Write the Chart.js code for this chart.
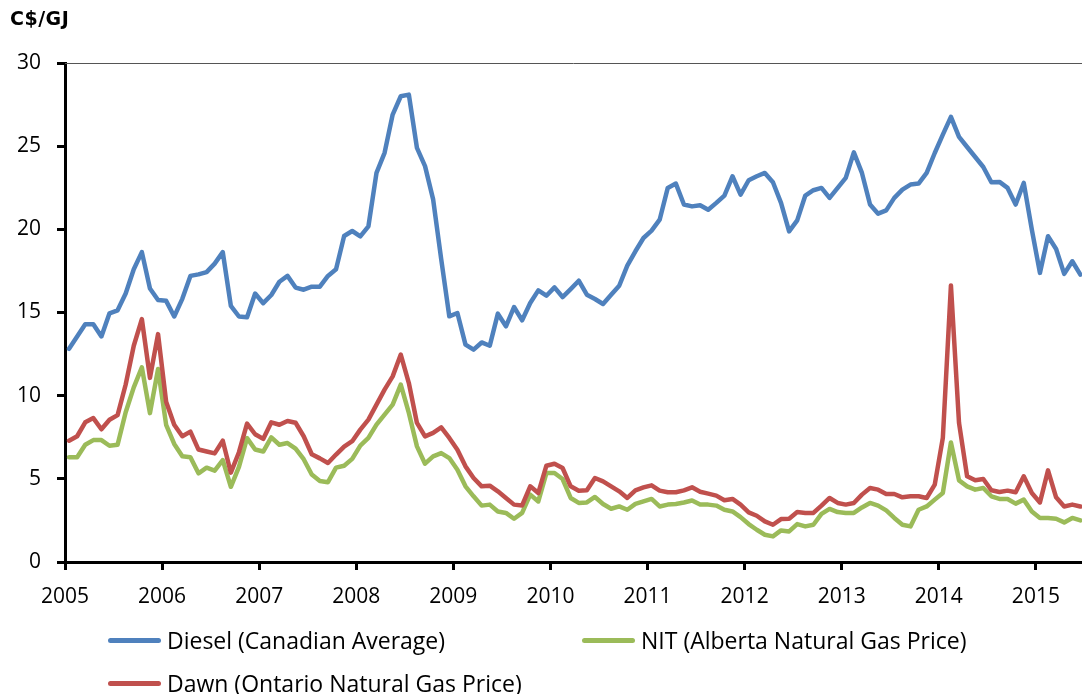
<!DOCTYPE html>
<html>
<head>
<meta charset="utf-8">
<script src="https://cdn.jsdelivr.net/npm/chart.js@4.4.1/dist/chart.umd.min.js"></script>
<style>
  body { margin: 0; background: #fff; font-family: "Open Sans", sans-serif; }
  #wrap { position: relative; width: 1082px; height: 694px; overflow: hidden; }
  #chart { position: absolute; left: 0; top: 0; }
  #unit { position: absolute; left: 10px; top: 7px; font-size: 19px; font-weight: bold; letter-spacing: 0.5px; color: #000; font-family: "DejaVu Sans", sans-serif; }
  .leg { position: absolute; font-size: 23px; color: #000; white-space: nowrap; line-height: 30px; }
  .leg i { display: inline-block; width: 53px; height: 5px; border-radius: 3px; vertical-align: middle; margin-right: 6px; position: relative; top: -2px; }
</style>
</head>
<body>
<div id="wrap">
  <canvas id="chart" width="1082" height="694"></canvas>
  <div id="unit">C$/GJ</div>
  <div class="leg" style="left:108px; top:625px;"><i style="background:#4F81BD"></i>Diesel (Canadian Average)</div>
  <div class="leg" style="left:582px; top:625px;"><i style="background:#9BBB59"></i>NIT (Alberta Natural Gas Price)</div>
  <div class="leg" style="left:108px; top:668px;"><i style="background:#C0504D"></i>Dawn (Ontario Natural Gas Price)</div>
</div>
<script>
// Monthly prices, Jan 2005 - Jun 2015 (C$/GJ)
const yearLabels = ['2005', '2006', '2007', '2008', '2009', '2010', '2011', '2012', '2013', '2014', '2015'];
const yTicks = [0, 5, 10, 15, 20, 25, 30];

const diesel = [
  12.82, 13.56, 14.3, 14.3, 13.56, 14.95, 15.13, 16.14, 17.6, 18.63, 16.44, 15.75,
  15.7, 14.76, 15.82, 17.2, 17.29, 17.43, 17.94, 18.63, 15.4, 14.76, 14.71, 16.14,
  15.56, 16.05, 16.85, 17.2, 16.5, 16.37, 16.55, 16.55, 17.2, 17.6, 19.6, 19.9,
  19.58, 20.18, 23.39, 24.6, 26.9, 28.0, 28.1, 24.9, 23.8, 21.8, 18.2, 14.77,
  14.97, 13.07, 12.77, 13.2, 13.0, 14.93, 14.17, 15.33, 14.53, 15.57, 16.33, 16.01,
  16.51, 15.93, 16.41, 16.91, 16.07, 15.81, 15.51, 16.07, 16.61, 17.82, 18.68, 19.48,
  19.92, 20.58, 22.49, 22.75, 21.49, 21.38, 21.45, 21.18, 21.59, 22.03, 23.19, 22.09,
  22.95, 23.19, 23.39, 22.83, 21.59, 19.88, 20.54, 22.03, 22.35, 22.49, 21.89, 22.49,
  23.09, 24.63, 23.39, 21.49, 20.94, 21.14, 21.89, 22.39, 22.69, 22.75, 23.39, 24.59,
  25.69, 26.76, 25.56, 24.95, 24.35, 23.75, 22.83, 22.85, 22.49, 21.49, 22.79, 19.98,
  17.38, 19.58, 18.82, 17.32, 18.08, 17.28
];

const nit = [
  6.3, 6.3, 7.05, 7.33, 7.33, 6.99, 7.05, 9.0, 10.5, 11.7, 8.95, 11.6,
  8.25, 7.1, 6.36, 6.3, 5.33, 5.67, 5.49, 6.13, 4.52, 5.72, 7.45, 6.76,
  6.64, 7.49, 7.05, 7.15, 6.82, 6.18, 5.26, 4.87, 4.8, 5.67, 5.79, 6.2,
  7.0, 7.46, 8.26, 8.86, 9.46, 10.66, 8.96, 6.95, 5.91, 6.35, 6.55, 6.25,
  5.55, 4.55, 3.95, 3.39, 3.45, 3.04, 2.95, 2.6, 2.95, 4.05, 3.64, 5.35,
  5.35, 4.99, 3.85, 3.55, 3.58, 3.91, 3.49, 3.2, 3.34, 3.14, 3.49, 3.64,
  3.79, 3.34, 3.45, 3.49, 3.58, 3.7, 3.45, 3.45, 3.39, 3.14, 3.04, 2.7,
  2.28, 1.94, 1.64, 1.54, 1.9, 1.84, 2.28, 2.14, 2.24, 2.89, 3.19, 3.0,
  2.95, 2.95, 3.28, 3.55, 3.39, 3.1, 2.65, 2.24, 2.14, 3.14, 3.34, 3.75,
  4.15, 7.19, 4.91, 4.55, 4.35, 4.45, 3.95, 3.79, 3.79, 3.51, 3.75, 3.04,
  2.65, 2.65, 2.6, 2.38, 2.65, 2.5
];

const dawn = [
  7.29, 7.56, 8.4, 8.65, 7.98, 8.55, 8.83, 10.67, 13.0, 14.6, 11.07, 13.7,
  9.64, 8.25, 7.56, 7.84, 6.76, 6.64, 6.53, 7.29, 5.37, 6.6, 8.32, 7.68,
  7.4, 8.4, 8.25, 8.48, 8.37, 7.56, 6.48, 6.23, 5.95, 6.46, 6.94, 7.26,
  7.96, 8.56, 9.46, 10.36, 11.16, 12.47, 10.76, 8.36, 7.55, 7.76, 8.09, 7.46,
  6.75, 5.75, 5.05, 4.55, 4.59, 4.25, 3.85, 3.45, 3.4, 4.55, 4.15, 5.79,
  5.91, 5.65, 4.55, 4.29, 4.31, 5.05, 4.85, 4.55, 4.25, 3.85, 4.31, 4.49,
  4.61, 4.29, 4.19, 4.19, 4.31, 4.49, 4.22, 4.11, 3.99, 3.71, 3.79, 3.45,
  2.98, 2.78, 2.44, 2.24, 2.58, 2.6, 3.0, 2.95, 2.95, 3.39, 3.85, 3.55,
  3.45, 3.55, 4.05, 4.45, 4.35, 4.09, 4.09, 3.89, 3.95, 3.95, 3.85, 4.65,
  7.46, 16.63, 8.36, 5.15, 4.91, 4.99, 4.31, 4.21, 4.29, 4.19, 5.15, 4.15,
  3.58, 5.51, 3.89, 3.34, 3.45, 3.34
];

// points sit mid-month, x measured in months from Jan 2005
const toPoints = arr => arr.map((v, i) => ({ x: i + 0.5, y: v }));

const font = { family: '"Open Sans", sans-serif', size: 21 };

// thin border along the top of the plot area
const topBorder = {
  id: 'topBorder',
  afterDraw(chart) {
    const { ctx, chartArea } = chart;
    ctx.save();
    ctx.strokeStyle = '#555';
    ctx.lineWidth = 1;
    ctx.beginPath();
    ctx.moveTo(chartArea.left, chartArea.top + 0.5);
    ctx.lineTo(chartArea.right, chartArea.top + 0.5);
    ctx.stroke();
    ctx.restore();
  }
};

const line = (label, data, color, order) => ({
  label: label,
  data: toPoints(data),
  borderColor: color,
  borderWidth: 4.5,
  pointRadius: 0,
  tension: 0,
  borderJoinStyle: 'round',
  borderCapStyle: 'round',
  fill: false,
  order: order
});

new Chart(document.getElementById('chart'), {
  type: 'line',
  data: {
    datasets: [
      line('Diesel (Canadian Average)', diesel, '#4F81BD', 3),
      line('NIT (Alberta Natural Gas Price)', nit, '#9BBB59', 2),
      line('Dawn (Ontario Natural Gas Price)', dawn, '#C0504D', 1)
    ]
  },
  plugins: [topBorder],
  options: {
    responsive: false,
    animation: false,
    layout: { padding: { top: 63, right: 0, left: 0, bottom: 0 } },
    plugins: {
      legend: { display: false },
      tooltip: { enabled: false }
    },
    scales: {
      x: {
        type: 'linear',
        min: 0,
        max: 125.7,
        afterFit: s => { s.height = 132; },
        afterBuildTicks: s => {
          s.ticks = yearLabels.map((_, i) => ({ value: i * 12 }));
        },
        grid: { drawOnChartArea: false, tickLength: 8, tickWidth: 3, tickColor: '#000' },
        border: { display: true, width: 3, color: '#000' },
        ticks: {
          autoSkip: false,
          maxRotation: 0,
          padding: 14,
          color: '#000',
          font: font,
          callback: v => yearLabels[v / 12]
        }
      },
      y: {
        min: 0,
        max: 30,
        afterFit: s => { s.width = 65; },
        afterBuildTicks: s => {
          s.ticks = yTicks.map(v => ({ value: v }));
        },
        grid: { drawOnChartArea: false, tickLength: 8, tickWidth: 3, tickColor: '#000' },
        border: { display: true, width: 3, color: '#000' },
        ticks: {
          padding: 16,
          color: '#000',
          font: font
        }
      }
    }
  }
});
</script>
</body>
</html>
